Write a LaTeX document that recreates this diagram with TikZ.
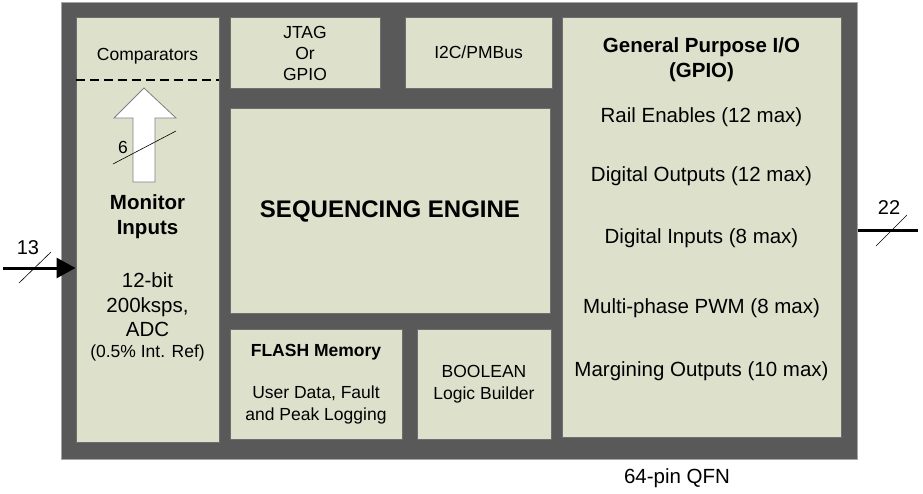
\documentclass[tikz,border=0pt]{standalone}
\usepackage{fontspec}
\setmainfont{Liberation Sans}
\usetikzlibrary{arrows.meta}
\definecolor{chip}{HTML}{595959}
\definecolor{chipedge}{HTML}{A6A6A6}
\definecolor{blkfill}{HTML}{DDE1CC}
\definecolor{blkedge}{HTML}{6E6E6E}
\tikzset{
  blk/.style={draw=blkedge, fill=blkfill, line width=1pt, inner sep=0pt, rectangle},
  smalltxt/.style={font=\fontsize{17.5}{21}\selectfont, inner sep=0pt, align=center},
  medtxt/.style={font=\fontsize{20.5}{24.5}\selectfont, inner sep=0pt, align=center},
  slash/.style={draw=black, line width=0.6pt},
  bus/.style={draw=black, line width=3pt},
}
\begin{document}
\begin{tikzpicture}[x=1pt,y=-1pt]
\useasboundingbox (0,0) rectangle (923,493);
% chip outline
\node[draw=chipedge, fill=chip, line width=1pt, minimum width=796pt, minimum height=457pt, inner sep=0pt] (chipbox) at (459,230.5) {};
% blocks
\node[blk, minimum width=143pt, minimum height=425pt] (mon) at (147.5,229.5) {};
\node[blk, minimum width=150pt, minimum height=71pt] (jtag) at (305,52.5) {};
\node[blk, minimum width=147pt, minimum height=71pt] (i2c) at (478.5,52.5) {};
\node[blk, minimum width=320pt, minimum height=205pt] (seq) at (390,210.5) {};
\node[blk, minimum width=172pt, minimum height=110pt] (flash) at (316,384) {};
\node[blk, minimum width=134pt, minimum height=110pt] (bool) at (484,384) {};
\node[blk, minimum width=279pt, minimum height=420pt] (gpio) at (701.5,227) {};
% comparators divider
\coordinate (dl) at (76,80);
\coordinate (dr) at (219,80);
\draw[dashed, line width=1.8pt, dash pattern=on 9pt off 5pt] (dl) -- (dr);
\node[smalltxt] (comp) at (147.5,56) {Comparators};
% hollow arrow
\draw[fill=white, draw=gray, line width=0.8pt] (144,88) -- (176,118) -- (155,118) -- (155,182) -- (133,182) -- (133,118) -- (114,118) -- cycle;
\coordinate (s6a) at (113,164);
\coordinate (s6b) at (176,131);
\draw[slash] (s6a) -- (s6b);
\node[smalltxt] (six) at (123,147) {6};
% monitor texts
\node[medtxt, font=\fontsize{20.5}{25}\selectfont\bfseries] (montitle) at (147.5,216.5) {Monitor\\Inputs};
\node[medtxt] (adc) at (147.5,305) {12-bit\\200ksps,\\ADC};
\node[smalltxt] (ref) at (147.5,353) {(0.5\% Int. Ref)};
% other block texts
\node[smalltxt] (jtagt) at (305,53) {JTAG\\Or\\GPIO};
\node[smalltxt] (i2ct) at (478.5,52.5) {I2C/PMBus};
\node[inner sep=0pt, font=\fontsize{24}{28}\selectfont\bfseries] (seqt) at (390,211) {SEQUENCING ENGINE};
\node[smalltxt, font=\fontsize{17.5}{21}\selectfont\bfseries] (flasht) at (316,352) {FLASH Memory};
\node[smalltxt, font=\fontsize{17.5}{22}\selectfont] (flashd) at (316,405) {User Data, Fault\\and Peak Logging};
\node[smalltxt, font=\fontsize{17.5}{22}\selectfont] (boolt) at (484,384) {BOOLEAN\\Logic Builder};
% GPIO texts
\node[medtxt, font=\fontsize{20.5}{25}\selectfont\bfseries] (gpiot) at (701.5,59.5) {General Purpose I/O\\(GPIO)};
\node[medtxt] (g1) at (701.5,117) {Rail Enables (12 max)};
\node[medtxt] (g2) at (701.5,176) {Digital Outputs (12 max)};
\node[medtxt] (g3) at (701.5,238) {Digital Inputs (8 max)};
\node[medtxt] (g4) at (701.5,308) {Multi-phase PWM (8 max)};
\node[medtxt] (g5) at (701.5,371) {Margining Outputs (10 max)};
% input bus
\coordinate (inL) at (3,268);
\draw[bus, -{Triangle[length=19pt,width=20pt]}] (inL) -- (mon.west |- inL);
\coordinate (s13a) at (19,283);
\coordinate (s13b) at (51,252);
\draw[slash] (s13a) -- (s13b);
\node[medtxt, font=\fontsize{20}{24}\selectfont] (n13) at (28,248) {13};
% output bus
\coordinate (outR) at (918,230);
\draw[bus] (chipbox.east |- outR) -- (outR);
\coordinate (s22a) at (876,246);
\coordinate (s22b) at (907,215);
\draw[slash] (s22a) -- (s22b);
\node[medtxt, font=\fontsize{20}{24}\selectfont] (n22) at (889,208) {22};
% package label
\node[medtxt] (pkg) at (677,478) {64-pin QFN};
\end{tikzpicture}
\end{document}
